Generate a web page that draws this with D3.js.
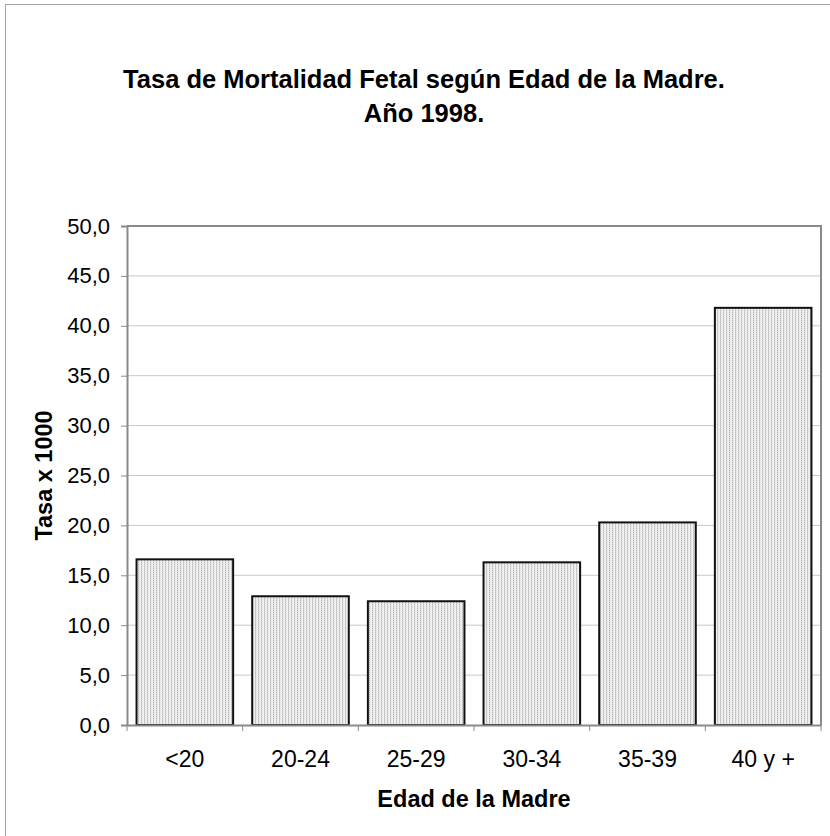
<!DOCTYPE html>
<html><head><meta charset="utf-8">
<script src="https://cdn.jsdelivr.net/npm/d3@7"></script>
<style>html,body{margin:0;padding:0;background:#fff;}svg{display:block;}</style>
</head><body>
<script>
const categories = ["<20", "20-24", "25-29", "30-34", "35-39", "40 y +"];
const values = [16.6, 12.9, 12.4, 16.3, 20.3, 41.8];
const yTicks = [0, 5, 10, 15, 20, 25, 30, 35, 40, 45, 50];
const titleLines = ["Tasa de Mortalidad Fetal según Edad de la Madre.", "Año 1998."];
const xTitle = "Edad de la Madre";
const yTitle = "Tasa x 1000";

const W = 830, H = 836;
const m = {left: 127, right: 821, top: 226, bottom: 725};
const svg = d3.select("body").append("svg").attr("width", W).attr("height", H);
const font = "'Liberation Sans', Arial, sans-serif";

const defs = svg.append("defs");
const pat = defs.append("pattern").attr("id", "dots").attr("patternUnits", "userSpaceOnUse")
  .attr("width", 3).attr("height", 2);
pat.append("rect").attr("width", 3).attr("height", 2).attr("fill", "#f2f2f2");
pat.append("rect").attr("x", 0).attr("y", 0).attr("width", 1).attr("height", 1).attr("fill", "#b8b8b8");
pat.append("rect").attr("x", 0).attr("y", 1).attr("width", 1).attr("height", 1).attr("fill", "#d4d4d4");
pat.append("rect").attr("x", 1).attr("y", 1).attr("width", 1).attr("height", 1).attr("fill", "#e2e2e2");

// outer chart border
svg.append("rect").attr("x", 5.5).attr("y", 4.5).attr("width", 840).attr("height", 850)
  .attr("fill", "none").attr("stroke", "#a6a6a6").attr("stroke-width", 1);

const x = d3.scaleBand().domain(categories).range([m.left, m.right]).paddingInner(0.165).paddingOuter(0.0825);
const y = d3.scaleLinear().domain([0, 50]).range([m.bottom, m.top]);

// gridlines
svg.append("g").selectAll("line").data(yTicks.filter(t => t > 0 && t < 50)).join("line")
  .attr("x1", m.left).attr("x2", m.right).attr("y1", d => y(d)).attr("y2", d => y(d))
  .attr("stroke", "#c8c8c8").attr("stroke-width", 1);

// plot border (top, right)
svg.append("path").attr("d", `M${m.left},${m.top}H${m.right}V${m.bottom}`)
  .attr("fill", "none").attr("stroke", "#8a8a8a").attr("stroke-width", 2);

// bars
svg.append("g").selectAll("rect").data(values).join("rect")
  .attr("x", (d, i) => x(categories[i]))
  .attr("y", d => y(d))
  .attr("width", x.bandwidth())
  .attr("height", d => y(0) - y(d))
  .attr("fill", "url(#dots)").attr("stroke", "#111").attr("stroke-width", 2);

// y axis
const yAxis = svg.append("g").attr("transform", `translate(${m.left},0)`)
  .call(d3.axisLeft(y).tickValues(yTicks).tickSize(6).tickPadding(11)
    .tickFormat(d => d3.format(".1f")(d).replace(".", ",")));
yAxis.select(".domain").attr("stroke", "#8a8a8a").attr("stroke-width", 2);
yAxis.selectAll(".tick line").attr("stroke", "#8a8a8a");
yAxis.selectAll("text").attr("font-family", font).attr("font-size", 22).attr("fill", "#000");

// x axis
const xAxis = svg.append("g").attr("transform", `translate(0,${m.bottom})`)
  .call(d3.axisBottom(x).tickSize(0).tickPadding(26));
xAxis.select(".domain").attr("stroke", "#8a8a8a").attr("stroke-width", 2);
xAxis.selectAll("text").attr("font-family", font).attr("font-size", 23).attr("fill", "#000");
// category boundary ticks
const bounds = categories.map(c => x(c) - x.step() * x.paddingInner() / 2);
bounds.push(m.right);
xAxis.append("g").selectAll("line").data(bounds).join("line")
  .attr("x1", d => d).attr("x2", d => d).attr("y1", 0).attr("y2", 6)
  .attr("stroke", "#8a8a8a").attr("stroke-width", 1);

// titles
const t = svg.append("text").attr("text-anchor", "middle").attr("font-family", font)
  .attr("font-weight", "bold").attr("font-size", 25.5).attr("fill", "#000");
titleLines.forEach((s, i) => t.append("tspan").attr("x", 424).attr("y", 88 + i * 34).text(s));

svg.append("text").attr("x", (m.left + m.right) / 2).attr("y", 807).attr("text-anchor", "middle")
  .attr("font-family", font).attr("font-weight", "bold").attr("font-size", 23.5)
  .text(xTitle);

svg.append("text").attr("transform", `translate(52,${(m.top + m.bottom) / 2}) rotate(-90)`)
  .attr("text-anchor", "middle").attr("font-family", font).attr("font-weight", "bold")
  .attr("font-size", 23.5).text(yTitle);
</script>
</body></html>
